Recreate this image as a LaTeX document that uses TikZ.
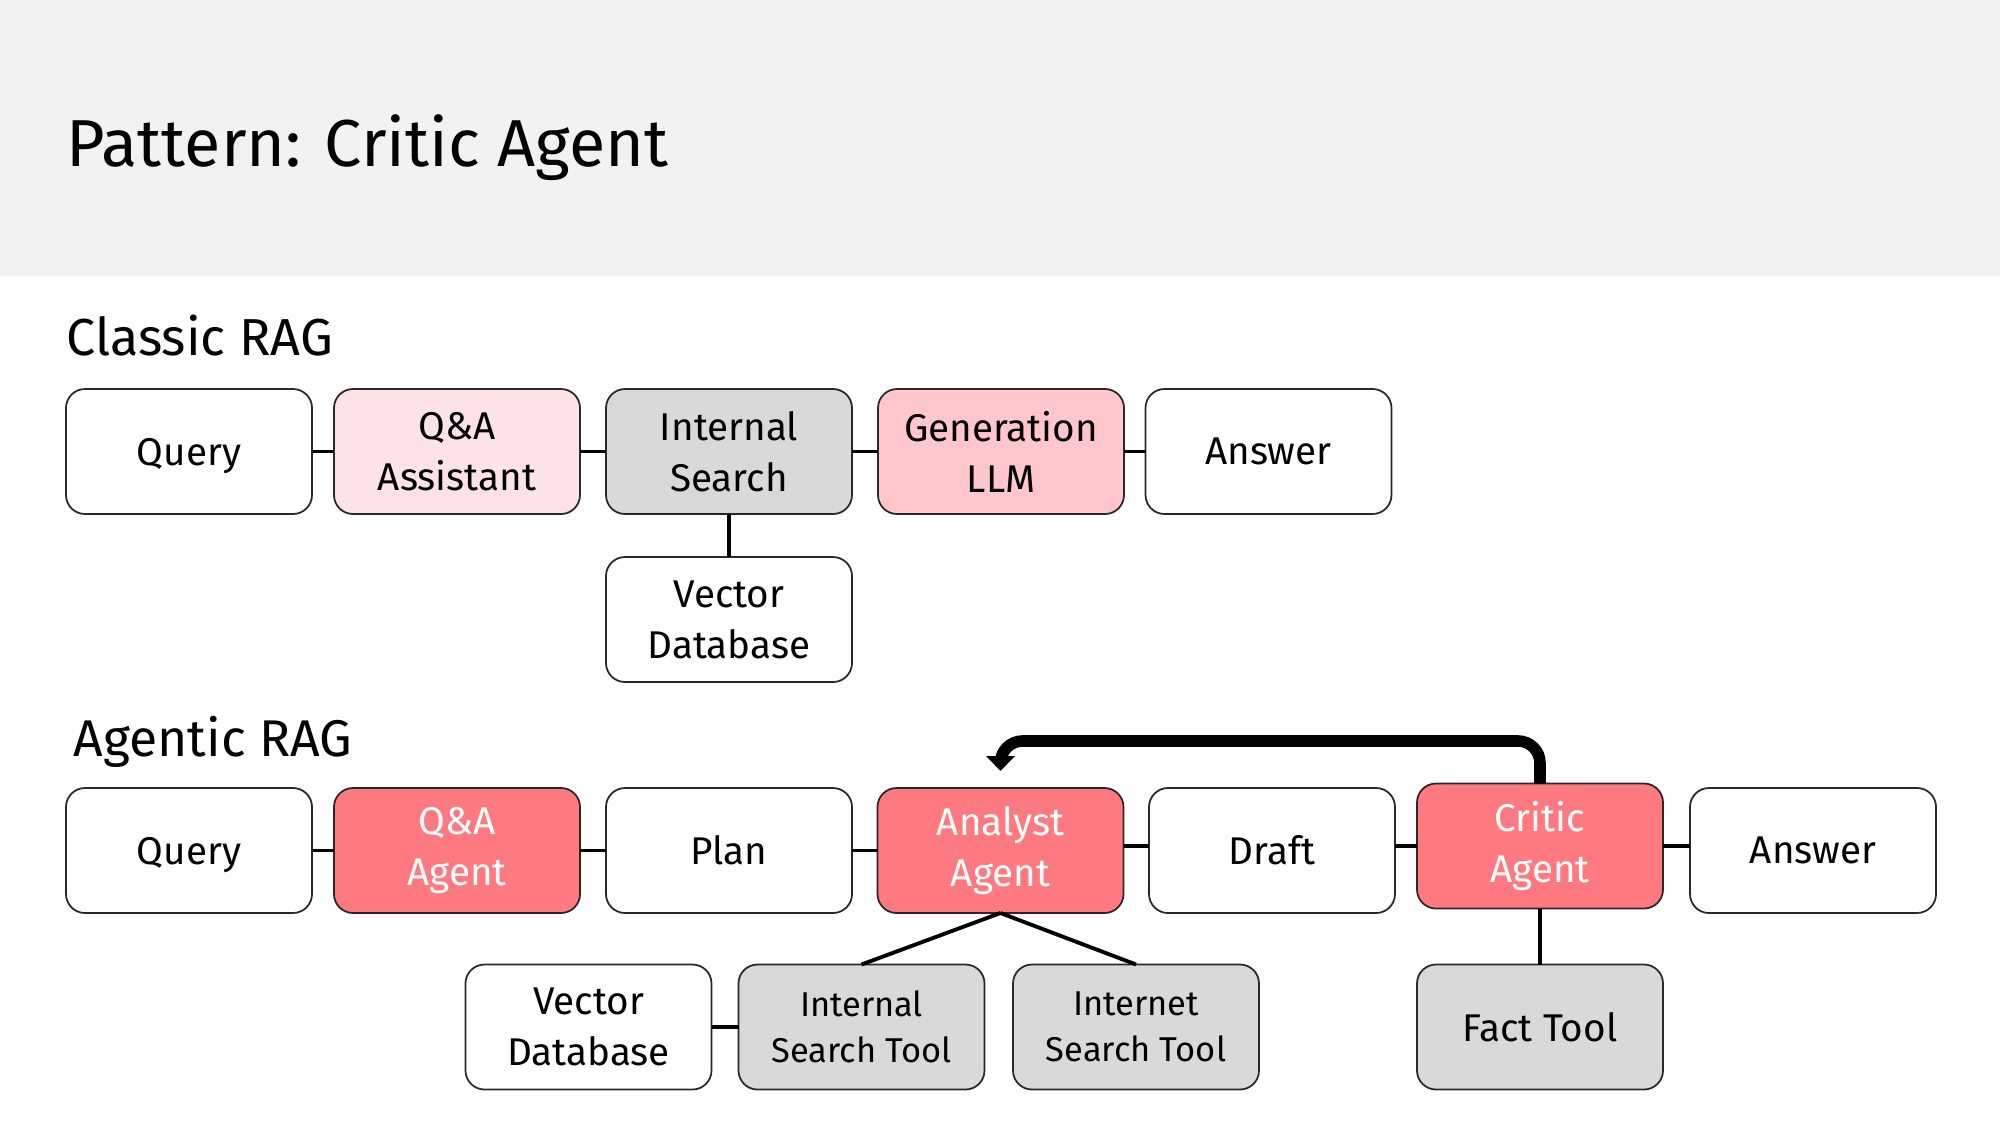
\documentclass[tikz,border=0pt]{standalone}
\usepackage{fontspec}
\setmainfont{Fira Sans}
\usetikzlibrary{arrows.meta}
\definecolor{hdr}{RGB}{242,242,242}
\definecolor{agentred}{RGB}{255,122,128}
\definecolor{genpink}{RGB}{255,199,203}
\definecolor{lightpink}{RGB}{253,227,229}
\definecolor{toolgrey}{RGB}{217,217,217}
\definecolor{edgegrey}{RGB}{40,40,40}
\tikzset{
  box/.style={draw=edgegrey, line width=0.5pt, rounded corners=0.19cm, minimum width=2.46cm, minimum height=1.25cm, inner sep=0pt, outer sep=0pt, align=center, font=\fontsize{11}{14.5}\selectfont},
  toolbox/.style={box, fill=toolgrey, font=\fontsize{9.8}{13}\selectfont},
  wbox/.style={box, fill=white},
  agent/.style={box, fill=agentred, text=white},
  nodesc/.style={text depth=0pt},
  link/.style={line width=1.1pt, black},
  feedback/.style={line width=3.3pt, rounded corners=0.22cm, -{Triangle[length=0.15cm,width=0.28cm]}},
  heading/.style={anchor=base west, inner sep=0pt}
}
\begin{document}
\begin{tikzpicture}
\path[use as bounding box, fill=white] (0,0) rectangle (20,-11.25);
\fill[hdr] (0,0) rectangle (20,-2.755);
\node[heading, font=\fontsize{18.9}{22}\selectfont] (title) at (0.66,-1.66) {Pattern: Critic Agent};
\node[heading, font=\fontsize{14.8}{18}\selectfont] (classic) at (0.66,-3.55) {Classic RAG};
\node[heading, font=\fontsize{14.7}{18}\selectfont] (agentic) at (0.73,-7.56) {Agentic RAG};
% Classic RAG
\node[wbox, nodesc] (q1) at (1.89,-4.515) {Query};
\node[box, fill=lightpink] (qa1) at (4.57,-4.515) {Q\&A\\Assistant};
\node[box, fill=toolgrey] (is1) at (7.29,-4.515) {Internal\\Search};
\node[box, fill=genpink] (gen) at (10.01,-4.515) {Generation\\LLM};
\node[wbox] (a1) at (12.685,-4.515) {Answer};
\node[wbox] (vdb1) at (7.29,-6.195) {Vector\\Database};
\draw[link] (q1) -- (qa1);
\draw[link] (qa1) -- (is1);
\draw[link] (is1) -- (gen);
\draw[link] (gen) -- (a1);
\draw[link] (is1) -- (vdb1);
% Agentic RAG
\node[wbox, nodesc] (q2) at (1.89,-8.505) {Query};
\node[agent] (qa2) at (4.57,-8.505) {Q\&A\\Agent};
\node[wbox] (plan) at (7.29,-8.505) {Plan};
\node[agent] (analyst) at (10.005,-8.505) {Analyst\\Agent};
\node[wbox] (draft) at (12.72,-8.505) {Draft};
\node[agent] (critic) at (15.40,-8.46) {Critic\\Agent};
\node[wbox] (a2) at (18.13,-8.505) {Answer};
\node[wbox] (vdb2) at (5.885,-10.27) {Vector\\Database};
\node[toolbox] (ist) at (8.615,-10.27) {Internal\\Search Tool};
\node[toolbox] (inst) at (11.36,-10.27) {Internet\\Search Tool};
\node[box, fill=toolgrey] (fact) at (15.40,-10.27) {Fact Tool};
\draw[link] (q2) -- (qa2);
\draw[link] (qa2) -- (plan);
\draw[link] (plan) -- (analyst);
\draw[link] (analyst.east |- critic.west) -- (draft.west |- critic.west);
\draw[link] (draft.east |- critic.west) -- (critic.west);
\draw[link] (critic.east) -- (a2.west |- critic.east);
\draw[link] (analyst.south) -- (ist.north);
\draw[link] (analyst.south) -- (inst.north);
\draw[link] (vdb2) -- (ist);
\draw[link] (critic) -- (fact);
\coordinate (fbtop) at (0,-7.41);
\coordinate (fbtip) at (10.005,-7.71);
\draw[feedback] (critic.north) -- (critic.north |- fbtop) -- (fbtip |- fbtop) -- (fbtip);
\end{tikzpicture}
\end{document}
